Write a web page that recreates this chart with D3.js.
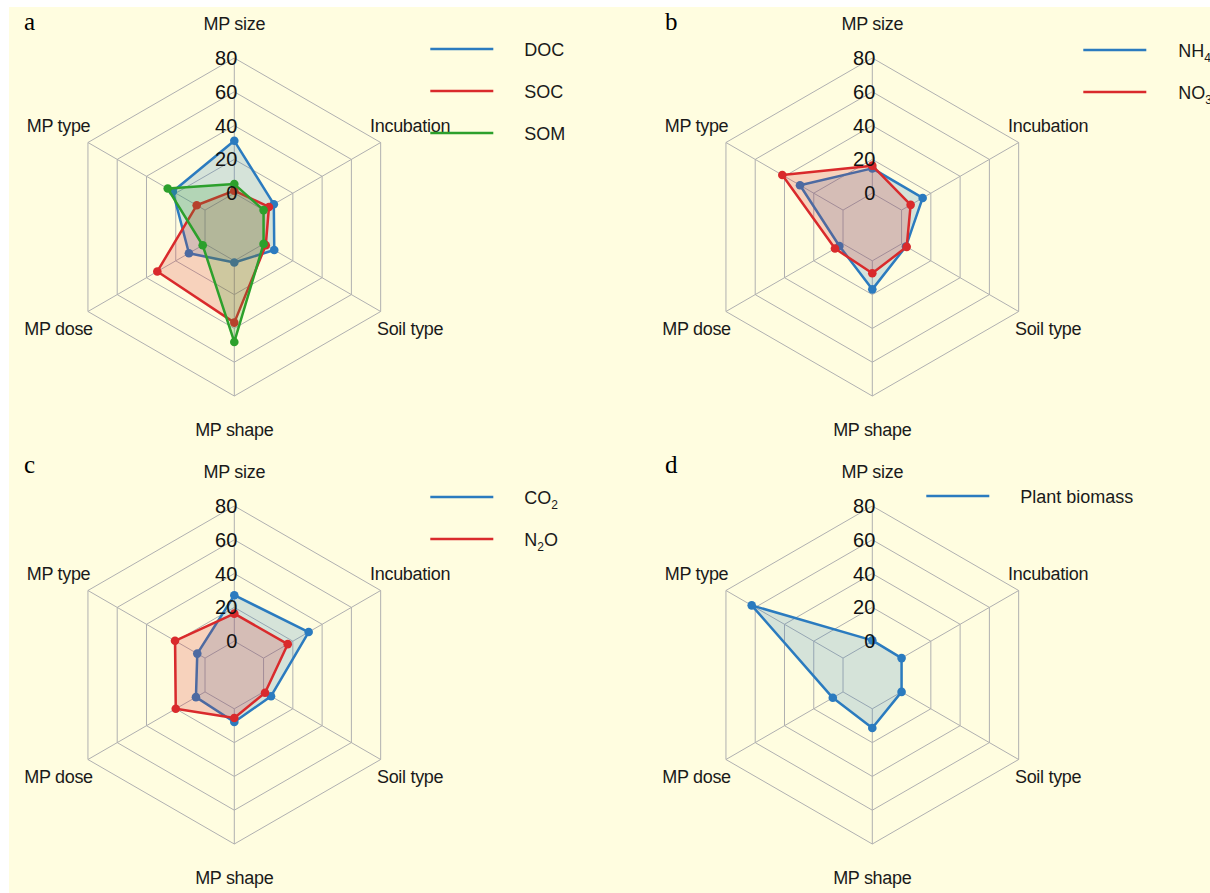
<!DOCTYPE html>
<html>
<head>
<meta charset="utf-8">
<script src="https://cdn.jsdelivr.net/npm/d3@7"></script>
<style>
  html, body { margin: 0; padding: 0; background: #ffffff; }
  svg { display: block; }
</style>
</head>
<body>
<svg id="chart" width="1210" height="893"></svg>
<script>
// ---------- data ----------
const axesLabels = ["MP size", "Incubation", "Soil type", "MP shape", "MP dose", "MP type"];
const tickValues = [0, 20, 40, 60, 80];
const tickLabels = ["0", "20", "40", "60", "80"];

const docVals   = [31, 7, 7.3, 1, 11, 22];
const socVals   = [1.5, 3.7, 1.5, 36.6, 32.6, 5.7];
const somVals   = [5.4, 0, 0, 48, 1.6, 25.5];

const nh4Vals   = [14.7, 14.4, 3, 16.9, 2.5, 29.4];
const no3Vals   = [16.3, 6.2, 3.5, 7.4, 5.5, 41.5];

const co2Vals   = [27.2, 30.8, 5.1, 7.8, 6.2, 5.3];
const n2oVals   = [16.3, 16.5, 1, 5.4, 20, 20.5];

const plantVals = [0.5, 0, 0, 11.4, 7, 62.4];

const panelLetters = ["a", "b", "c", "d"];

// ---------- styles / layout ----------
const BLUE = "#2b7bbf", RED = "#d92a2c", GREEN = "#2ca02c";
const panels = [
  { letter: panelLetters[0], cx: 234.3, cy: 227, legX: 196, legTx: 290, legY: -178,
    series: [ {name: ["DOC"], vals: docVals, color: BLUE},
              {name: ["SOC"], vals: socVals, color: RED},
              {name: ["SOM"], vals: somVals, color: GREEN} ] },
  { letter: panelLetters[1], cx: 872.3, cy: 227, legX: 211, legTx: 306, legY: -177,
    series: [ {name: ["NH", ["4", "sub"]], vals: nh4Vals, color: BLUE},
              {name: ["NO", ["3", "sub"]], vals: no3Vals, color: RED} ] },
  { letter: panelLetters[2], cx: 234.3, cy: 675, legX: 196, legTx: 290, legY: -178,
    series: [ {name: ["CO", ["2", "sub"]], vals: co2Vals, color: BLUE},
              {name: ["N", ["2", "sub"], "O"], vals: n2oVals, color: RED} ] },
  { letter: panelLetters[3], cx: 872.3, cy: 675, legX: 54, legTx: 148, legY: -179,
    series: [ {name: ["Plant biomass"], vals: plantVals, color: BLUE} ] }
];
const letterPos = [[24, 30], [665, 30], [24, 473], [665, 473]];

const svg = d3.select("#chart");
svg.append("rect").attr("x", 9).attr("y", 7).attr("width", 1201).attr("height", 886).attr("fill", "#fffde0");

const r = d3.scaleLinear().domain([-20, 80]).range([0, 169]);
const n = axesLabels.length;
const ang = i => i * 2 * Math.PI / n;
const px = (i, v) => r(v) * Math.sin(ang(i));
const py = (i, v) => -r(v) * Math.cos(ang(i));

const radial = d3.lineRadial()
  .angle((d, i) => ang(i))
  .radius(d => r(d))
  .curve(d3.curveLinearClosed);

panels.forEach((p, pi) => {
  const g = svg.append("g").attr("transform", `translate(${p.cx},${p.cy})`);

  // grid rings
  tickValues.forEach(t => {
    g.append("path")
      .attr("d", radial(axesLabels.map(() => t)))
      .attr("fill", "none").attr("stroke", "#b0b0b0").attr("stroke-width", 1);
  });
  // spokes
  axesLabels.forEach((a, i) => {
    g.append("line")
      .attr("x1", px(i, tickValues[0])).attr("y1", py(i, tickValues[0]))
      .attr("x2", px(i, tickValues[tickValues.length - 1])).attr("y2", py(i, tickValues[tickValues.length - 1]))
      .attr("stroke", "#b0b0b0").attr("stroke-width", 1);
  });

  // axis labels
  axesLabels.forEach((a, i) => {
    const R = 203;
    g.append("text")
      .attr("x", R * Math.sin(ang(i))).attr("y", -R * Math.cos(ang(i)))
      .attr("text-anchor", "middle").attr("dominant-baseline", "central")
      .attr("font-family", "Liberation Sans, Arial, sans-serif").attr("font-size", 18)
      .attr("fill", "#1a1a1a").attr("letter-spacing", -0.3)
      .text(a);
  });

  // series
  p.series.forEach(s => {
    g.append("path")
      .attr("d", radial(s.vals))
      .attr("fill", s.color).attr("fill-opacity", 0.2)
      .attr("stroke", s.color).attr("stroke-width", 2.5).attr("stroke-linejoin", "round");
    g.selectAll(null).data(s.vals).enter().append("circle")
      .attr("cx", (d, i) => px(i, d)).attr("cy", (d, i) => py(i, d))
      .attr("r", 4.3).attr("fill", s.color);
  });

  // tick labels
  tickValues.forEach((t, k) => {
    g.append("text")
      .attr("x", 3).attr("y", -r(t))
      .attr("text-anchor", "end").attr("dominant-baseline", "central")
      .attr("font-family", "Liberation Sans, Arial, sans-serif").attr("font-size", 20)
      .attr("fill", "#111")
      .text(tickLabels[k]);
  });

  // legend
  p.series.forEach((s, k) => {
    const y = p.legY + k * 42;
    g.append("line").attr("x1", p.legX).attr("x2", p.legX + 63)
      .attr("y1", y).attr("y2", y).attr("stroke", s.color).attr("stroke-width", 2.5);
    const t = g.append("text").attr("x", p.legTx).attr("y", y + 6.5)
      .attr("font-family", "Liberation Sans, Arial, sans-serif").attr("font-size", 18)
      .attr("fill", "#1a1a1a");
    let shift = 0;
    s.name.forEach(part => {
      if (typeof part === "string") {
        t.append("tspan").attr("dy", -shift).text(part);
        shift = 0;
      } else {
        t.append("tspan").attr("font-size", 12).attr("dy", 5 - shift).text(part[0]);
        shift = 5;
      }
    });
  });

  // panel letter
  svg.append("text").attr("x", letterPos[pi][0]).attr("y", letterPos[pi][1])
    .attr("font-family", "Liberation Serif, Times New Roman, serif").attr("font-size", 25)
    .attr("fill", "#000").text(p.letter);
});
</script>
</body>
</html>
